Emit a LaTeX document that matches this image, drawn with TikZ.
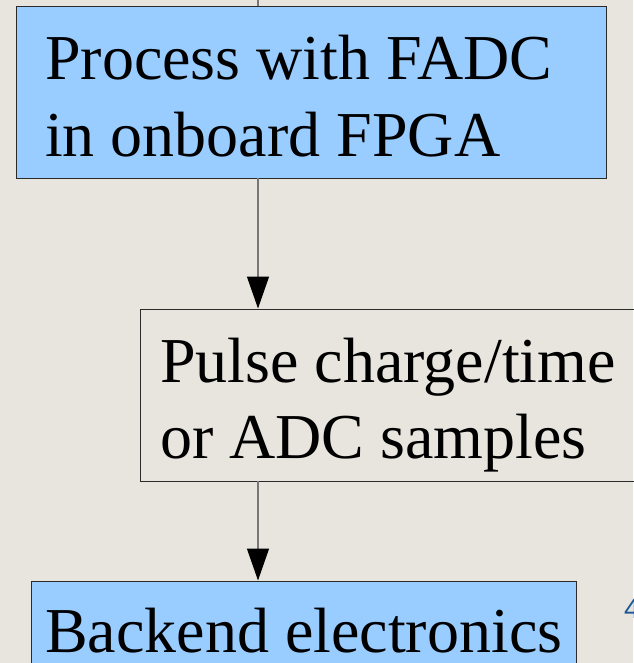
\documentclass[tikz,border=0pt]{standalone}
\usepackage{fontspec}
\setmainfont{Liberation Serif}
\newfontfamily\numfont{Liberation Sans}
\usetikzlibrary{arrows.meta}
\definecolor{pagebg}{HTML}{E8E5DF}
\definecolor{boxblue}{HTML}{99CCFF}
\definecolor{boxline}{HTML}{2A2A2A}
\definecolor{linkgray}{HTML}{777777}
\definecolor{numblue}{HTML}{1F5A96}
\tikzset{
  stagebox/.style={draw=boxline, line width=1pt, rectangle, anchor=north west, inner sep=0pt},
  bluestage/.style={stagebox, fill=boxblue},
  plainstage/.style={stagebox, fill=none},
  stagetext/.style={anchor=base west, inner sep=0pt, font=\fontsize{64}{76}\selectfont},
  link/.style={draw=linkgray, line width=1.3pt,
    -{Triangle[length=32pt,width=22pt,fill=black,color=black]}},
}
\begin{document}
\begin{tikzpicture}[x=1pt, y=-1pt]
  \fill[pagebg] (0,0) rectangle (633,663);
  \useasboundingbox (0,0) rectangle (633,663);

  % incoming link from above
  \coordinate (above) at (258,-2);

  % FADC stage
  \node[bluestage, minimum width=590pt, minimum height=172pt] (fadc) at (16,6) {};
  \node[stagetext] (fadc1) at (45,80) {Process with FADC};
  \node[stagetext] (fadc2) at (45,157) {in onboard FPGA};

  % output stage
  \node[plainstage, minimum width=510pt, minimum height=172pt] (pulse) at (140,308.5) {};
  \node[stagetext] (pulse1) at (160,382) {Pulse charge/time};
  \node[stagetext] (pulse2) at (160,458) {or ADC samples};

  % backend stage
  \node[bluestage, minimum width=545pt, minimum height=100pt] (back) at (31,580.5) {};
  \node[stagetext] (back1) at (45,652) {Backend electronics};

  % page number at the edge
  \node[anchor=base west, inner sep=0pt, text=numblue,
        font=\numfont\fontsize{28}{30}\selectfont] (pagenum) at (624,618) {4};

  % links between stages
  \draw[draw=linkgray, line width=1.3pt] (above) -- (fadc.north -| above);
  \coordinate (fadcout) at (258,178);
  \coordinate (pulsein) at (258,308.5);
  \coordinate (pulseout) at (258,480.5);
  \coordinate (backin) at (258,580.5);
  \draw[link] (fadcout) -- (pulsein);
  \draw[link] (pulseout) -- (backin);
\end{tikzpicture}
\end{document}
